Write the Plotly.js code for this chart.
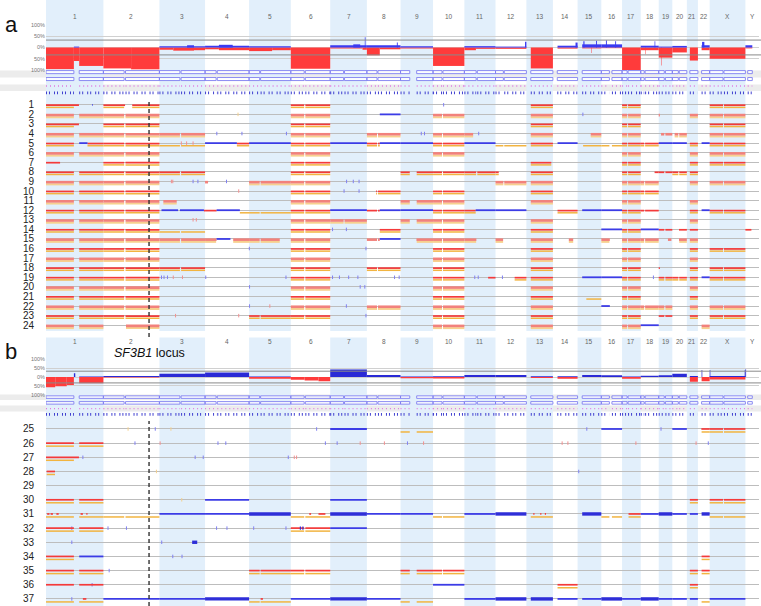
<!DOCTYPE html>
<html>
<head>
<meta charset="utf-8">
<script src="https://cdn.plot.ly/plotly-3.0.1.min.js"></script>
<style>html,body{margin:0;padding:0;background:#fff}#chart{width:761px;height:606px}</style>
</head>
<body>
<div id="chart"></div>
<script>
// chromosome layout (hg19, Mb)
const CHROMS = ['1','2','3','4','5','6','7','8','9','10','11','12','13','14','15','16','17','18','19','20','21','22','X','Y'];
const CHR_LEN = [249,243,198,191,181,171,159,146,141,136,135,134,115,107,103,90,81,78,59,63,48,51,155,59];
const CEN_GAP = [[121,144],[90,96],[89,94],[48,53],[46,50],[58,63],[58,62],[44,48],[40,70],[39,43],[51,56],[34,38],
                 [0,19],[0,19],[0,20],[35,46],[22,26],[15,19],[24,29],[26,30],[0,13],[0,16],[58,62],[0,10]];
const MAPPED_END = [249,243,198,191,181,171,159,146,141,136,135,134,115,107,103,90,81,78,59,63,48,51,155,30];
const SF3B1_POS = ['2', 198];

// cohort frequency (%), panel a
const FREQ_A_GAIN = [
  ['1',121,144,4],['3',0,198,6],['3',120,150,10],['4',0,191,8],['4',60,120,12],['5',0,181,5],
  ['7',0,159,10],['7',100,130,14],['7',150,153,45],['8',0,146,10],['8',130,134,22],['9',0,141,6],
  ['11',0,135,6],['12',0,134,4],['12',128,134,25],['14',20,107,8],['14',98,107,22],
  ['15',20,103,14],['15',25,30,28],['15',80,84,30],['16',0,90,14],['16',20,24,32],['16',60,64,28],
  ['18',0,78,8],['18',60,63,28],['19',0,59,4],['20',0,63,7],['22',16,51,10],['22',18,28,25],['Y',0,30,10]
];
const FREQ_A_LOSS = [
  ['1',0,121,96],['1',121,144,60],['1',144,249,82],['2',0,120,93],['2',120,243,97],
  ['3',0,60,10],['3',60,150,14],['3',150,198,12],['4',0,60,8],['4',60,191,12],['5',0,100,16],['5',100,181,12],
  ['6',0,171,95],['7',0,140,4],['7',140,159,10],['8',0,56,35],['8',56,146,8],['9',0,141,4],
  ['10',0,136,82],['11',0,50,12],['11',50,135,6],['12',0,134,6],['13',19,115,93],['14',20,107,5],
  ['15',20,103,4],['15',60,62,25],['16',0,90,3],['17',0,81,100],['18',0,78,12],['18',20,22,30],
  ['19',0,59,45],['19',10,12,80],['20',0,63,22],['21',13,48,58],['22',16,51,12],['X',0,155,50],['Y',0,30,4]
];
// cohort frequency (%), panel b
const FREQ_B_GAIN = [
  ['1',121,127,22],['1',144,249,3],['2',0,243,6],['3',0,198,18],['4',0,191,25],['5',0,181,3],
  ['7',0,159,42],['8',0,146,12],['9',0,141,3],['10',0,136,4],['11',0,135,12],['12',0,134,12],
  ['13',19,115,5],['14',20,107,4],['15',20,103,12],['16',0,90,10],['17',0,81,3],['18',0,78,8],
  ['19',0,59,10],['20',0,63,18],['21',13,48,6],['22',16,19,40],['X',0,155,6],['X',0,3,40],['X',152,155,40],['Y',0,3,44]
];
const FREQ_B_LOSS = [
  ['1',0,40,58],['1',40,90,52],['1',90,121,45],['1',144,249,35],['2',0,243,3],['5',0,181,10],
  ['6',0,60,15],['6',60,120,20],['6',120,171,24],['9',0,141,7],['10',0,136,8],['13',19,115,6],
  ['14',20,107,9],['17',0,81,10],['21',13,48,27],['22',16,51,24],['X',0,155,14]
];

// per-sample segments: D = deletion+LOH, R = deletion, O = LOH, B = gain, T = high gain
const SAMPLES_A = [
  [['1',0,143,'D'],['1',200,203,'B'],['2',0,94,'D'],['2',125,243,'D'],['6',0,171,'D'],['13',19,115,'D'],['17',0,81,'D'],['X',0,155,'D']],
  [['1',0,249,'D'],['2',0,243,'D'],['6',0,171,'D'],['8',56,146,'B'],['10',0,136,'D'],['13',19,115,'D'],['17',0,81,'D'],['19',0,5,'R'],['21',13,48,'D'],['X',0,155,'D']],
  [['1',0,143,'D'],['2',0,243,'D'],['6',0,171,'D'],['13',19,115,'D'],['17',0,81,'D'],['X',0,155,'D']],
  [['1',0,249,'D'],['2',0,243,'D'],['3',0,198,'D'],['6',0,171,'D'],['8',0,146,'D'],['10',0,136,'D'],['11',0,38,'D'],['13',19,115,'D'],['15',57,103,'D'],['17',0,81,'D'],['19',10,59,'R'],['20',10,63,'D'],['X',0,155,'D']],
  [['1',0,121,'D'],['1',144,180,'B'],['1',180,249,'D'],['2',0,243,'D'],['3',0,198,'O'],['4',0,138,'B'],['4',138,191,'D'],['5',0,181,'B'],['6',0,171,'D'],['7',0,159,'B'],['8',0,56,'D'],['8',56,146,'B'],['9',0,141,'B'],['10',0,136,'D'],['11',0,135,'B'],['12',0,134,'O'],['13',19,115,'D'],['14',20,107,'B'],['15',24,103,'O'],['16',0,90,'O'],['17',0,81,'D'],['18',0,78,'D'],['19',0,59,'B'],['20',0,63,'B'],['21',13,48,'D'],['22',16,51,'B'],['X',0,155,'D']],
  [['1',0,249,'D'],['2',0,243,'D'],['6',0,171,'D'],['10',0,136,'D'],['17',0,81,'D'],['21',13,48,'D'],['X',0,155,'D']],
  [['1',0,61,'R'],['2',0,243,'D'],['6',0,171,'D'],['13',19,108,'D'],['17',0,81,'D'],['21',13,48,'D'],['X',0,155,'D']],
  [['1',0,249,'D'],['2',0,243,'D'],['3',0,198,'D'],['6',0,171,'D'],['9',0,141,'D'],['10',0,136,'D'],['11',0,135,'D'],['12',0,14,'D'],['13',19,115,'D'],['17',0,81,'D'],['18',60,78,'R'],['19',0,59,'R'],['20',0,63,'D'],['21',13,48,'D']],
  [['1',0,249,'D'],['2',0,243,'D'],['4',0,13,'R'],['5',0,181,'D'],['6',0,171,'D'],['12',0,134,'D'],['13',19,115,'D'],['17',0,81,'D'],['18',0,78,'D'],['21',13,48,'D'],['X',0,155,'D']],
  [['1',0,249,'D'],['2',0,243,'D'],['6',0,171,'D'],['8',40,146,'D'],['10',0,136,'D'],['13',19,115,'D'],['17',0,81,'D'],['18',0,78,'D']],
  [['1',0,249,'D'],['2',0,243,'D'],['3',17,75,'D'],['6',0,171,'D'],['9',0,141,'D'],['10',0,136,'D'],['13',19,115,'D'],['17',0,81,'D'],['21',13,48,'D']],
  [['1',0,249,'D'],['2',0,243,'D'],['3',9,81,'B'],['3',89,193,'B'],['3',193,198,'R'],['4',0,50,'R'],['4',50,151,'B'],['4',151,191,'O'],['5',0,181,'O'],['6',0,171,'D'],['7',0,159,'B'],['8',0,56,'R'],['8',56,146,'B'],['9',0,141,'B'],['10',0,136,'D'],['11',0,49,'D'],['11',49,135,'B'],['12',0,134,'B'],['14',20,107,'D'],['15',20,103,'B'],['16',0,90,'B'],['17',0,81,'D'],['18',0,78,'R'],['21',13,48,'D'],['22',16,51,'B'],['X',0,155,'D']],
  [['1',0,249,'D'],['2',0,243,'D'],['6',0,171,'D'],['7',0,159,'D'],['9',0,141,'D'],['10',0,136,'D'],['13',19,115,'D'],['17',0,81,'D'],['21',13,48,'D']],
  [['1',0,249,'D'],['2',0,243,'D'],['3',0,198,'O'],['6',0,171,'D'],['8',56,146,'D'],['10',0,136,'D'],['13',19,115,'D'],['16',0,90,'B'],['17',0,81,'D'],['18',0,78,'B'],['19',0,59,'R'],['20',29,63,'R'],['21',13,48,'R'],['Y',0,26,'R']],
  [['1',0,249,'D'],['2',0,243,'D'],['3',0,198,'D'],['4',0,50,'D'],['4',50,110,'B'],['4',122,191,'D'],['5',0,133,'D'],['6',0,171,'D'],['8',0,56,'R'],['8',56,146,'B'],['9',69,141,'D'],['10',0,136,'D'],['11',0,52,'D'],['12',0,33,'D'],['13',19,115,'D'],['14',69,88,'D'],['16',0,37,'D'],['17',0,81,'D'],['18',0,78,'D'],['19',40,55,'R'],['20',29,63,'D'],['21',13,48,'D']],
  [['1',0,249,'D'],['2',0,243,'D'],['6',0,171,'D'],['10',0,136,'D'],['13',19,115,'D'],['17',0,81,'D'],['21',13,48,'D'],['X',0,155,'D']],
  [['1',0,249,'D'],['2',0,243,'D'],['6',0,171,'D'],['10',0,136,'D'],['13',19,115,'D'],['17',0,81,'D'],['21',13,48,'D']],
  [['1',0,249,'D'],['2',0,243,'D'],['3',0,198,'D'],['6',0,171,'D'],['8',0,146,'D'],['10',0,136,'D'],['13',19,115,'D'],['17',0,81,'D'],['19',0,5,'R'],['21',13,48,'D'],['X',0,155,'D']],
  [['1',0,249,'D'],['2',0,243,'D'],['6',0,171,'D'],['10',0,136,'D'],['11',103,135,'R'],['12',83,134,'D'],['13',19,115,'D'],['15',20,103,'B'],['16',0,90,'B'],['17',0,81,'D'],['19',0,59,'D'],['20',0,63,'D'],['21',13,48,'D'],['22',16,51,'B'],['X',0,155,'D']],
  [['1',0,249,'D'],['2',0,243,'D'],['6',0,171,'D'],['10',0,136,'D'],['13',19,115,'D'],['17',0,81,'D'],['21',13,48,'D']],
  [['1',0,249,'D'],['2',0,243,'D'],['6',0,171,'D'],['10',0,136,'D'],['13',19,115,'D'],['15',38,103,'O'],['17',0,81,'D'],['21',13,48,'D']],
  [['1',0,249,'D'],['2',0,243,'D'],['6',0,171,'D'],['8',0,146,'D'],['10',0,136,'D'],['13',19,115,'D'],['16',0,37,'B'],['17',0,81,'D'],['18',0,78,'D'],['19',0,59,'D'],['21',13,48,'D'],['X',0,155,'D']],
  [['1',0,249,'D'],['2',0,243,'D'],['5',0,181,'D'],['6',0,171,'D'],['10',0,136,'D'],['13',19,115,'D'],['17',0,81,'D'],['19',0,59,'R'],['21',13,48,'D'],['X',0,155,'D']],
  [['1',0,249,'D'],['2',98,243,'D'],['10',0,136,'D'],['13',19,115,'D'],['17',0,81,'D'],['18',0,78,'B'],['22',16,51,'D']]
];
const SAMPLES_B = [
  [['7',0,159,'B'],['9',0,40,'O'],['9',69,141,'O'],['16',0,90,'B'],['20',0,63,'B'],['22',15,51,'D'],['X',0,155,'D']],
  [['1',0,249,'D']],
  [['1',0,143,'D']],
  [['1',3,39,'D']],
  [],
  [['1',0,249,'D'],['4',0,191,'B'],['7',0,159,'B'],['21',13,48,'D'],['X',0,155,'D']],
  [['1',0,249,'O'],['1',5,15,'R'],['1',20,30,'R'],['1',45,55,'R'],['1',150,160,'R'],['1',175,180,'R'],['2',0,243,'O'],['3',0,198,'B'],['4',0,191,'B'],['5',0,181,'T'],['6',0,171,'O'],['6',80,88,'R'],['6',120,150,'R'],['7',0,159,'T'],['8',0,146,'B'],['9',0,141,'B'],['10',0,136,'O'],['11',0,135,'B'],['12',0,134,'T'],['13',19,115,'O'],['13',30,35,'R'],['13',60,65,'R'],['13',80,85,'R'],['15',20,103,'T'],['16',0,90,'O'],['17',28,81,'D'],['18',0,78,'B'],['19',0,59,'T'],['20',0,63,'B'],['21',13,48,'B'],['22',16,51,'T'],['X',0,155,'O']],
  [['1',0,249,'D'],['6',0,171,'D'],['6',39,44,'T'],['6',50,55,'T'],['7',0,159,'B']],
  [['3',142,164,'T']],
  [['1',0,121,'D'],['1',144,249,'B'],['22',16,51,'D']],
  [['1',0,249,'D'],['5',0,181,'D'],['6',0,171,'D'],['9',0,141,'D'],['10',0,136,'D'],['21',13,48,'D'],['22',16,51,'D']],
  [['1',0,249,'R'],['10',0,136,'B'],['14',20,107,'D'],['21',13,48,'D']],
  [['1',0,249,'O'],['1',160,175,'R'],['2',0,243,'B'],['3',0,198,'B'],['4',0,191,'T'],['5',0,181,'O'],['5',50,60,'R'],['6',0,171,'B'],['7',0,159,'T'],['8',0,146,'B'],['9',0,141,'O'],['11',0,135,'B'],['12',0,134,'T'],['13',19,115,'T'],['14',20,107,'B'],['15',20,103,'B'],['16',0,90,'T'],['17',0,81,'B'],['18',0,78,'T'],['19',0,59,'B'],['20',0,63,'B'],['21',13,48,'B'],['22',16,51,'O'],['X',0,155,'B']]
];

// isolated small calls: [sample, chromosome, Mb, kind]
const SPOTS = [
  [1,'10',46,'b'],[2,'15',23,'b'],[2,'4',143,'o'],[4,'4',51,'b'],[4,'4',160,'b'],[4,'5',162,'b'],[4,'9',90,'b'],[4,'9',104,'b'],[4,'11',62,'b'],
  [5,'3',95,'r'],[5,'3',118,'r'],[5,'3',146,'r'],[9,'3',52,'r'],[9,'3',58,'r'],[9,'3',146,'b'],[9,'3',167,'b'],[9,'4',93,'b'],
  [9,'7',71,'b'],[9,'7',100,'b'],[9,'7',125,'b'],[10,'7',60,'b'],[10,'7',125,'b'],[10,'4',146,'r'],[13,'3',146,'r'],[13,'3',160,'r'],
  [14,'7',10,'b'],[14,'7',70,'b'],[16,'5',1,'b'],[16,'7',155,'b'],[19,'3',9,'b'],[19,'3',20,'b'],[19,'3',35,'b'],[19,'3',60,'r'],
  [19,'3',100,'r'],[19,'4',3,'b'],[19,'5',160,'b'],[19,'7',10,'b'],[19,'7',40,'b'],[19,'7',80,'b'],[19,'7',120,'b'],[19,'8',120,'b'],
  [19,'8',140,'b'],[19,'11',45,'b'],[19,'11',60,'b'],[19,'12',30,'b'],[19,'18',55,'b'],[20,'5',2,'b'],[20,'7',130,'b'],[20,'7',150,'b'],
  [22,'5',2,'b'],[22,'5',90,'r'],[22,'7',70,'b'],[23,'3',70,'r'],[23,'4',146,'r'],[23,'7',155,'b'],
  [25,'2',225,'b'],[25,'2',107,'o'],[25,'3',50,'o'],[25,'6',112,'b'],[25,'15',40,'b'],[25,'19',10,'b'],
  [26,'2',137,'b'],[26,'3',3,'r'],[26,'4',56,'b'],[26,'4',90,'b'],[26,'6',150,'b'],[26,'7',30,'b'],[26,'7',130,'r'],
  [26,'8',76,'r'],[26,'9',30,'b'],[26,'9',100,'r'],[26,'14',40,'r'],[26,'14',65,'r'],[26,'17',60,'r'],[26,'21',40,'r'],[26,'22',45,'b'],
  [27,'1',160,'b'],[27,'3',155,'b'],[27,'3',190,'b'],[27,'5',170,'b'],[27,'6',15,'r'],[27,'6',25,'r'],
  [28,'2',230,'o'],[28,'15',5,'b'],[30,'3',97,'o'],[32,'1',112,'b'],[32,'2',20,'b'],[32,'2',100,'b'],[32,'4',50,'b'],
  [32,'4',95,'b'],[32,'5',20,'b'],[32,'5',160,'b'],[33,'1',112,'b'],[33,'3',10,'b'],[34,'3',58,'b'],[34,'3',98,'b'],
  [35,'2',25,'b'],[36,'1',200,'b'],[37,'1',112,'b']
];

// rows that the reference draws in a softer, wider tone
const SOFT_ROWS = [2,4,6,9,11,13,15,17,20,22,24];

const W = 761, H = 606, ML = 46, MR = 2;
const OFFS = [];
let acc = 0;
CHR_LEN.forEach(l => { OFFS.push(acc); acc += l; });
const GENOME = acc;
const ci = c => CHROMS.indexOf(c);
const gx = (c, mb) => OFFS[ci(c)] + mb;
const py = p => 1 - p / H;                 // pixel row -> paper y
const pxp = p => (p - ML) / (W - ML - MR); // pixel col -> paper x

function splitGap(c, s, e) {
    const g = CEN_GAP[ci(c)];
    if (e <= g[0] || s >= g[1]) return [[s, e]];
    const out = [];
    if (s < g[0]) out.push([s, g[0]]);
    if (e > g[1]) out.push([g[1], e]);
    return out;
}
function redPieces(c, s, e) {
    const g = CEN_GAP[ci(c)];
    if (s < g[0] && e > g[1]) return [[s, g[0]], [g[1], e]];
    return [[s, e]];
}

function rowTraces(rows, first, yax, pxRow, redOff, orOff) {
    const keys = ['o', 'O', 'r', 'R', 'B', 'T'];
    const sets = {};
    keys.forEach(k => sets[k] = { x: [], y: [] });
    const off = { R: redOff, r: redOff + 0.3, O: orOff, o: orOff + 0.3, B: 0, T: 0 };
    const push = (k, c, a, b, r) => {
        const yy = r + off[k] / pxRow;
        sets[k].x.push(gx(c, a), gx(c, b), null);
        sets[k].y.push(yy, yy, null);
    };
    rows.forEach((segs, i) => {
        const r = first + i;
        const soft = SOFT_ROWS.includes(r);
        segs.forEach(([c, s, e, t]) => {
            if (t === 'D' || t === 'R') redPieces(c, s, e).forEach(p => push(soft ? 'r' : 'R', c, p[0], p[1], r));
            if (t === 'D' || t === 'O') splitGap(c, s, e).forEach(p => push(soft ? 'o' : 'O', c, p[0], p[1], r));
            if (t === 'B' || t === 'T') push(t, c, s, e, r);
        });
    });
    const style = {
        o: ['#f7d08e', 2.0], O: ['#f2b440', 1.5], r: ['#f2817c', 2.6], R: ['#f43a3a', 1.7],
        B: ['#3c3ce6', 1.8], T: ['#2e2ed8', 3.4]
    };
    return keys.filter(k => sets[k].x.length).map(k => ({
        type: 'scatter', mode: 'lines', x: sets[k].x, y: sets[k].y, yaxis: yax,
        line: { color: style[k][0], width: style[k][1] }, hoverinfo: 'skip', showlegend: false
    }));
}

function spotTraces(list, lo, hi, yax) {
    const col = { b: '#8080f2', r: '#f29090', o: '#f5d08c' };
    return Object.keys(col).map(k => {
        const pts = list.filter(d => d[3] === k && d[0] >= lo && d[0] <= hi);
        return {
            type: 'scatter', mode: 'markers', x: pts.map(d => gx(d[1], d[2])), y: pts.map(d => d[0]), yaxis: yax,
            marker: { symbol: 'line-ns', size: 2.5, line: { color: col[k], width: 1 } },
            hoverinfo: 'skip', showlegend: false
        };
    });
}

function freqBars(list, sign, color, yax) {
    return {
        type: 'bar', x: list.map(d => gx(d[0], (d[1] + d[2]) / 2)), y: list.map(d => sign * d[3]),
        width: list.map(d => d[2] - d[1]), yaxis: yax,
        marker: { color: color, line: { width: 0 } }, hoverinfo: 'skip', showlegend: false
    };
}

function ideoTraces(yax) {
    const rx = [], ry = [], mx = [], my = [], bx = [], by = [];
    CHROMS.forEach((c, i) => {
        const arms = [];
        if (CEN_GAP[i][0] > 0) arms.push([0, CEN_GAP[i][0]]);
        arms.push([CEN_GAP[i][1], MAPPED_END[i]]);
        arms.forEach(([a, b]) => {
            [0, 1].forEach(r => {
                rx.push(gx(c, a), gx(c, b), gx(c, b), gx(c, a), gx(c, a), null);
                ry.push(r - 0.22, r - 0.22, r + 0.22, r + 0.22, r - 0.22, null);
            });
            mx.push(gx(c, a), gx(c, b), null); my.push(2, 2, null);
            bx.push(gx(c, a), gx(c, b), null); by.push(3, 3, null);
        });
    });
    return [
        { type: 'scatter', mode: 'lines', x: rx, y: ry, yaxis: yax, fill: 'toself', fillcolor: 'rgba(255,255,255,0.85)',
          line: { color: '#7f7ff0', width: 0.9 }, hoverinfo: 'skip', showlegend: false },
        { type: 'scatter', mode: 'lines', x: mx, y: my, yaxis: yax,
          line: { color: '#e07ae0', width: 1.4, dash: '1px,3px' }, hoverinfo: 'skip', showlegend: false },
        { type: 'scatter', mode: 'lines', x: bx, y: by, yaxis: yax,
          line: { color: '#4040d0', width: 2.6, dash: '1px,2px,1px,4px' }, hoverinfo: 'skip', showlegend: false }
    ];
}

const PX_ROW_A = 230 / 24, PX_ROW_B = 184.1 / 13;
const data = [
    freqBars(FREQ_A_LOSS, -1, '#ff3b3b', 'y'),
    freqBars(FREQ_A_GAIN, 1, '#3a3af2', 'y'),
    ...ideoTraces('y2'),
    ...spotTraces(SPOTS, 1, 24, 'y3'),
    ...rowTraces(SAMPLES_A, 1, 'y3', PX_ROW_A, 0.4, 2.6),
    freqBars(FREQ_B_LOSS, -1, '#ff3b3b', 'y4'),
    freqBars(FREQ_B_GAIN, 1, '#2a2ad6', 'y4'),
    ...ideoTraces('y5'),
    ...spotTraces(SPOTS, 25, 37, 'y6'),
    ...rowTraces(SAMPLES_B, 25, 'y6', PX_ROW_B, 0, 3)
];

const freqAxis = dom => ({
    domain: dom, range: [-100, 100], anchor: 'x', fixedrange: true,
    tickvals: [100, 50, 0, -50, -100], ticktext: ['100%', '50%', '0%', '50%', '100%'],
    tickfont: { size: 5.5, color: '#777' }, gridcolor: '#d0d0d0', gridwidth: 1, zeroline: false, showline: false, ticks: ''
});
const rowAxis = (dom, lo, hi) => {
    const vals = [];
    for (let r = lo; r <= hi; r++) vals.push(r);
    return {
        domain: dom, range: [hi + 0.5, lo - 0.5], anchor: 'x', fixedrange: true,
        tickvals: vals, ticktext: vals.map(String), tickfont: { size: 10, color: '#222' },
        gridcolor: '#bdbdbd', gridwidth: 1, zeroline: false, showline: false, ticks: '', ticklabelstandoff: 11
    };
};
const ideoAxis = dom => ({ domain: dom, range: [3.45, -0.45], anchor: 'x', visible: false, fixedrange: true });

const shapes = [];
// grey strips behind the probe rows, drawn first so the chromosome shading covers them
[[70.5, 77.5], [84.5, 91], [394.5, 400], [405.5, 411.5]].forEach(([a, b]) => shapes.push({
    type: 'rect', xref: 'paper', yref: 'paper', x0: pxp(0), x1: 1.003, y0: py(b), y1: py(a),
    fillcolor: '#ececec', line: { width: 0 }, layer: 'below'
}));
const panels = [[py(331), 1], [0, py(337.5)]];
CHROMS.forEach((c, i) => {
    if (i % 2 !== 0) return;
    panels.forEach(([y0, y1]) => shapes.push({
        type: 'rect', xref: 'x', yref: 'paper', x0: OFFS[i], x1: OFFS[i] + CHR_LEN[i], y0: y0, y1: y1,
        fillcolor: '#e2effb', line: { width: 0 }, layer: 'below'
    }));
});
// threshold lines of the frequency plots
[['y', 33], ['y', -33], ['y4', 33], ['y4', -33]].forEach(([ax, v]) => shapes.push({
    type: 'line', xref: 'paper', yref: ax, x0: 0, x1: 1.003, y0: v, y1: v, line: { color: '#8a8a8a', width: 1 }
}));
// SF3B1 locus
const sfx = gx(SF3B1_POS[0], SF3B1_POS[1]);
[[102, 337], [421, 606]].forEach(([a, b]) => shapes.push({
    type: 'line', xref: 'x', yref: 'paper', x0: sfx, x1: sfx, y0: py(b), y1: py(a),
    line: { color: '#333', width: 1.4, dash: '4px,3px' }
}));

const annotations = [];
CHROMS.forEach((c, i) => {
    [11, 341.5].forEach(yy => annotations.push({
        x: OFFS[i] + CHR_LEN[i] / 2, y: py(yy), xref: 'x', yref: 'paper', text: c, showarrow: false,
        font: { size: 6.5, color: '#666' }
    }));
});
annotations.push(
    { x: pxp(3), y: py(10), xref: 'paper', yref: 'paper', xanchor: 'left', text: 'a', showarrow: false, font: { size: 22, color: '#111' } },
    { x: pxp(3), y: py(351), xref: 'paper', yref: 'paper', xanchor: 'left', text: 'b', showarrow: false, font: { size: 22, color: '#111' } },
    { x: sfx, y: py(353), xref: 'x', yref: 'paper', text: '<i>SF3B1</i> locus', showarrow: false, font: { size: 12.5, color: '#111' } }
);

const layout = {
    width: W, height: H,
    margin: { l: ML, r: MR, t: 0, b: 0, pad: 0 },
    paper_bgcolor: '#fff', plot_bgcolor: 'rgba(0,0,0,0)',
    font: { family: 'Liberation Sans, Arial, sans-serif', color: '#222' },
    barmode: 'overlay', showlegend: false,
    xaxis: { domain: [0, 1], range: [0, GENOME], visible: false, fixedrange: true, anchor: 'y' },
    yaxis: freqAxis([py(70), py(25)]),
    yaxis2: ideoAxis([py(96), py(69)]),
    yaxis3: rowAxis([py(330), py(100)], 1, 24),
    yaxis4: freqAxis([py(394.8), py(359.3)]),
    yaxis5: ideoAxis([py(417), py(394.5)]),
    yaxis6: rowAxis([0, py(421.9)], 25, 37),
    shapes: shapes,
    annotations: annotations
};

Plotly.newPlot('chart', data, layout, { displayModeBar: false, staticPlot: true });
</script>
</body>
</html>
